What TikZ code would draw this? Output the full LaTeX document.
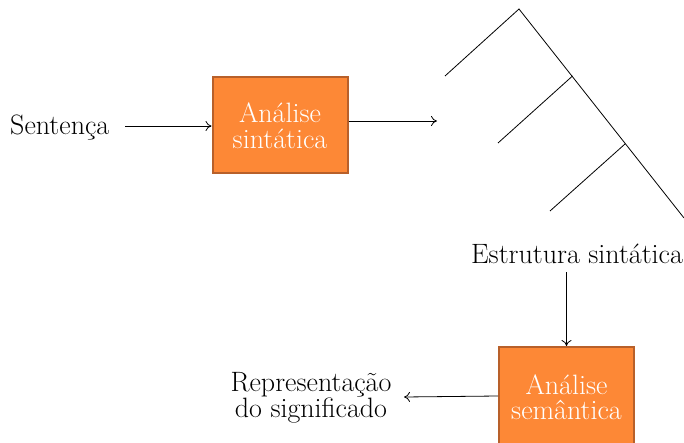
\documentclass[tikz,border=0pt]{standalone}
\usepackage{fontspec}
\usetikzlibrary{arrows.meta}
\definecolor{boxfill}{RGB}{253,136,54}
\definecolor{boxline}{RGB}{184,96,42}
\begin{document}
\begin{tikzpicture}[x=1pt,y=-1pt,
  txt/.style={font=\fontsize{28}{25.5}\selectfont, align=center},
  proc/.style={draw=boxline, line width=2pt, fill=boxfill, text=white, txt, inner sep=0pt, minimum width=135pt, minimum height=96pt},
  lbl/.style={txt, inner sep=1pt},
  conn/.style={-{To[length=6pt,width=10pt]}, line width=0.8pt},
  tree/.style={line width=0.8pt}]
\clip (0,0) rectangle (684,443);
\fill[white] (0,0) rectangle (684,443);
\node[proc] (a1) at (280,125.5) {Análise\\sintática};
\node[proc, minimum height=104pt] (a2) at (566.5,399) {};
\node[text=white, txt] (a2t) at (566.5,397) {Análise\\semântica};
\node[lbl, anchor=west] (s) at (9,128) {Sentença};
\node[lbl] (e) at (577,254) {Estrutura sintática};
\node[lbl] (r) at (311,398) {Representação\\do significado};
\coordinate (s1) at (125,126);
\coordinate (t) at (437,121);
\coordinate (e1) at (566.5,272);
\coordinate (r1) at (404,397);
\coordinate (top) at (519,9);
\coordinate (bot) at (684,218);
\coordinate (l0) at (445,76);
\coordinate (j1) at (572.5,76);
\coordinate (l1) at (498,143);
\coordinate (j2) at (625,144);
\coordinate (l2) at (550,211);
\draw[tree] (l0) -- (top) -- (bot);
\draw[tree] (j1) -- (l1);
\draw[tree] (j2) -- (l2);
\draw[conn] (s1) -- (a1.west |- s1);
\draw[conn] (a1.east |- t) -- (t);
\draw[conn] (e1) -- (a2.north);
\draw[conn] (a2.west |- 0,396) -- (r1);
\end{tikzpicture}
\end{document}
